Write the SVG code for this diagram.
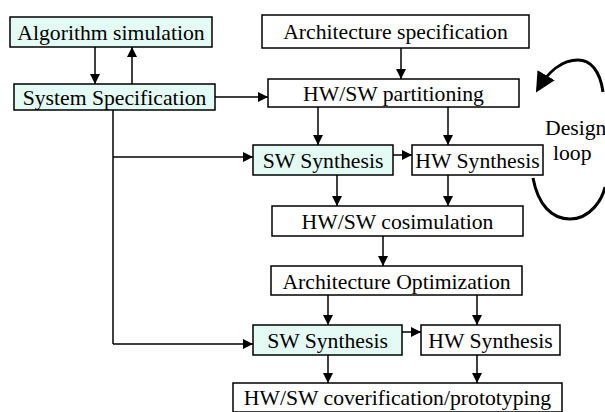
<svg xmlns="http://www.w3.org/2000/svg" width="605" height="412" viewBox="0 0 605 412">
  <defs>
    <marker id="arrow" viewBox="0 0 10 10" refX="10" refY="5" markerWidth="10" markerHeight="10" markerUnits="userSpaceOnUse" orient="auto">
      <path d="M0,0 L10,5 L0,10 Z" fill="#000"/>
    </marker>
    <marker id="bigarrow" viewBox="0 0 10 10" refX="8" refY="5" markerWidth="20" markerHeight="20" markerUnits="userSpaceOnUse" orient="auto">
      <path d="M0,0 L10,5 L0,10 Z" fill="#000"/>
    </marker>
  </defs>
  <style>
    .box { fill: #fff; stroke: #000; stroke-width: 1.5; }
    .sw { fill: #e3fbf4; }
    .lbl { font-family: "Liberation Serif", "Times New Roman", serif; font-size: 21.7px; fill: #000; text-anchor: middle; }
    .edge { fill: none; stroke: #000; stroke-width: 1.5; }
    .arr { marker-end: url(#arrow); }
    .loop { fill: none; stroke: #000; stroke-width: 3; }
  </style>
  <rect width="605" height="412" fill="#fff"/>

  <g id="algorithm-simulation">
    <rect class="box sw" x="10" y="17" width="202" height="30"/>
    <text class="lbl" x="111" y="40">Algorithm simulation</text>
  </g>
  <g id="system-specification">
    <rect class="box sw" x="14" y="84" width="201" height="26"/>
    <text class="lbl" x="114.5" y="105">System Specification</text>
  </g>
  <g id="architecture-specification">
    <rect class="box" x="262" y="15" width="267" height="33"/>
    <text class="lbl" x="395.5" y="39">Architecture specification</text>
  </g>
  <g id="hwsw-partitioning">
    <rect class="box" x="268" y="79" width="251" height="28"/>
    <text class="lbl" x="393.5" y="101">HW/SW partitioning</text>
  </g>
  <g id="sw-synthesis-1">
    <rect class="box sw" x="253" y="145" width="140" height="30"/>
    <text class="lbl" x="323" y="168">SW Synthesis</text>
  </g>
  <g id="hw-synthesis-1">
    <rect class="box" x="412" y="145" width="131" height="30"/>
    <text class="lbl" x="477.5" y="168">HW Synthesis</text>
  </g>
  <g id="hwsw-cosimulation">
    <rect class="box" x="272" y="206" width="251" height="30"/>
    <text class="lbl" x="397.5" y="229">HW/SW cosimulation</text>
  </g>
  <g id="architecture-optimization">
    <rect class="box" x="271" y="266" width="251" height="29"/>
    <text class="lbl" x="396.5" y="289">Architecture Optimization</text>
  </g>
  <g id="sw-synthesis-2">
    <rect class="box sw" x="253" y="325" width="149" height="30"/>
    <text class="lbl" x="327.5" y="348">SW Synthesis</text>
  </g>
  <g id="hw-synthesis-2">
    <rect class="box" x="421" y="325" width="139" height="30"/>
    <text class="lbl" x="490.5" y="348">HW Synthesis</text>
  </g>
  <g id="hwsw-coverification">
    <rect class="box" x="233" y="383" width="329" height="29"/>
    <text class="lbl" x="397.5" y="405">HW/SW coverification/prototyping</text>
  </g>

  <g id="design-loop">
    <path class="loop" d="M533,178 C538,205 552,219 570,219 C590,219 602,200 605,187"/>
    <path class="loop" d="M603,92 C600,70 590,60 578,60 C562,60 548,72 538,89" marker-end="url(#bigarrow)"/>
    <text class="lbl" style="text-anchor:start" x="545" y="135">Design</text>
    <text class="lbl" style="text-anchor:start" x="553" y="160">loop</text>
  </g>

  <g id="connectors">
    <path class="edge arr" d="M95,47 V84"/>
    <path class="edge arr" d="M132,84 V47"/>
    <path class="edge arr" d="M215,97 H268"/>
    <path class="edge arr" d="M401,48 V79"/>
    <path class="edge arr" d="M318,107 V145"/>
    <path class="edge arr" d="M448,107 V145"/>
    <path class="edge" d="M113,110 V344"/>
    <path class="edge arr" d="M113,157 H253"/>
    <path class="edge arr" d="M113,344 H253"/>
    <path class="edge arr" d="M393,155 H412"/>
    <path class="edge arr" d="M337,175 V206"/>
    <path class="edge arr" d="M448,175 V206"/>
    <path class="edge arr" d="M383,236 V266"/>
    <path class="edge arr" d="M328,295 V325"/>
    <path class="edge arr" d="M477,295 V325"/>
    <path class="edge arr" d="M402,332 H421"/>
    <path class="edge arr" d="M328,355 V383"/>
    <path class="edge arr" d="M477,355 V383"/>
  </g>
</svg>
